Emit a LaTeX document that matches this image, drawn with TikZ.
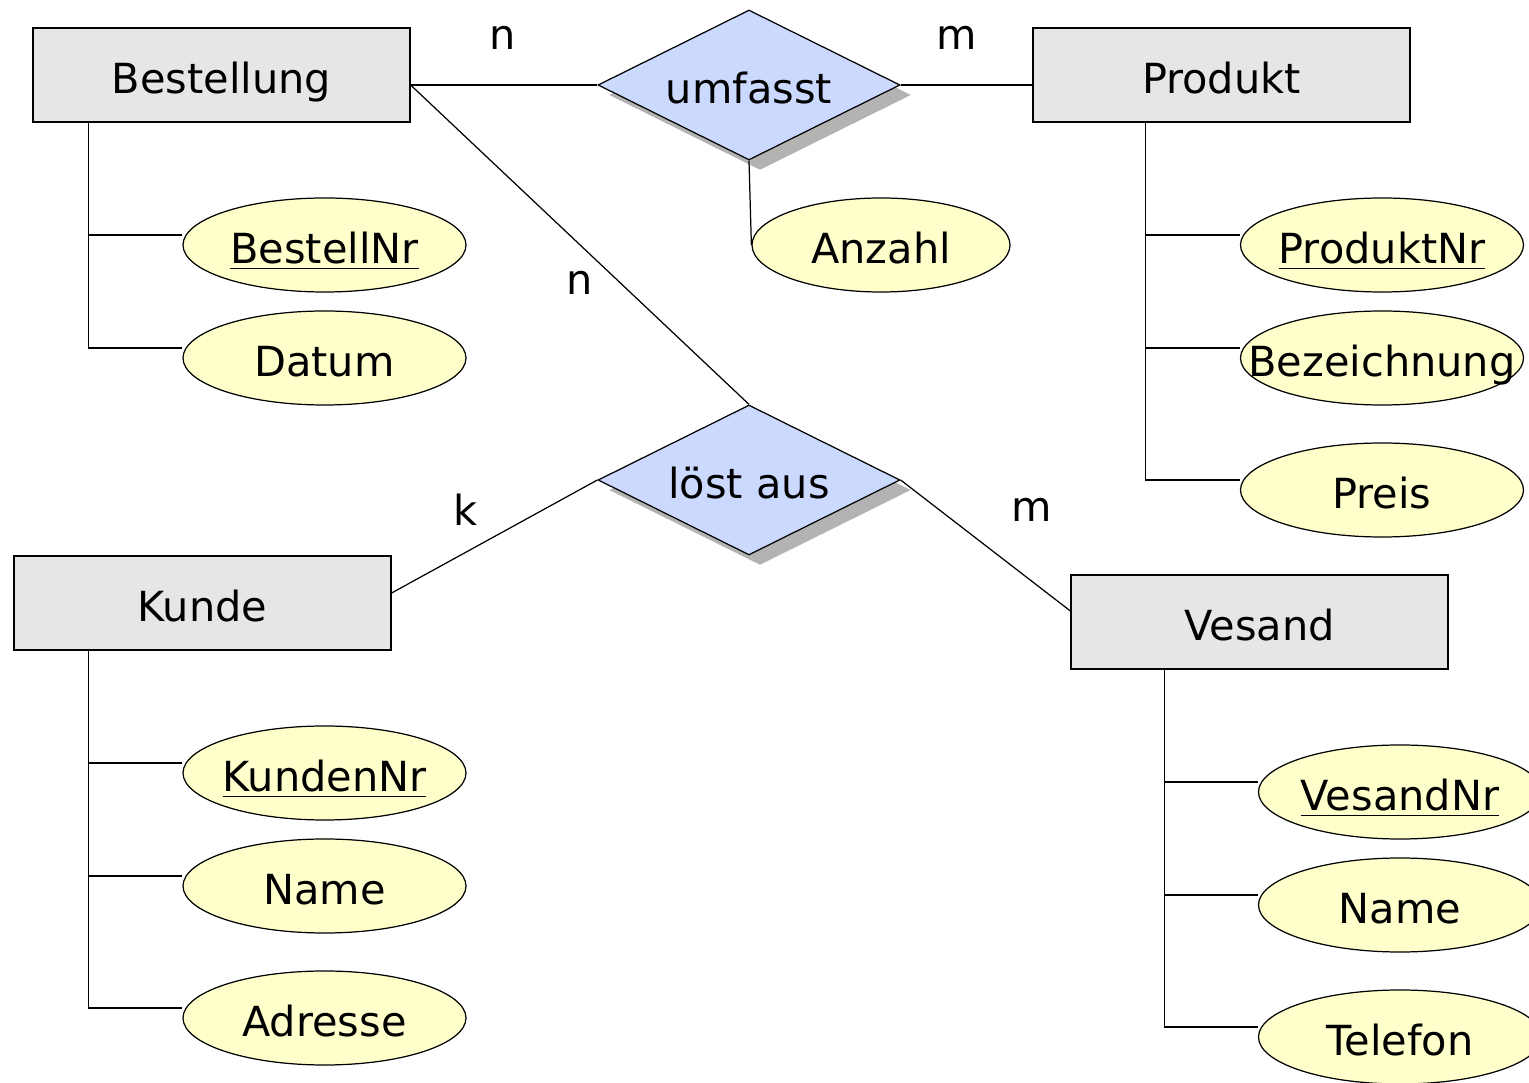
\documentclass[tikz,border=0pt]{standalone}
\usepackage{fontspec}
\setmainfont{DejaVu Sans}
\usetikzlibrary{shapes.geometric,shadows}
\definecolor{entfill}{HTML}{E6E6E6}
\definecolor{relfill}{HTML}{CCD9FF}
\definecolor{attfill}{HTML}{FFFFCC}
\definecolor{shadowgray}{HTML}{B3B3B3}

\begin{document}
\begin{tikzpicture}[
  line width=0.35pt,
  every node/.style={font=\fontsize{11.8}{14}\selectfont},
  entity/.style={draw,fill=entfill,minimum width=3.77cm,minimum height=0.94cm,
    inner sep=0pt,text height=10.3pt,text depth=0pt},
  relation/.style={draw,diamond,aspect=2,fill=relfill,minimum width=3.02cm,minimum height=1.5cm,
    inner sep=0pt,text height=10.3pt,text depth=0pt,
    drop shadow={shadow xshift=0.11cm,shadow yshift=-0.1cm,fill=shadowgray,opacity=1}},
  attrib/.style={draw,ellipse,fill=attfill,minimum width=2.83cm,minimum height=0.94cm,
    inner sep=0pt,text height=10.3pt,text depth=0pt}
]
  \useasboundingbox (0,0) rectangle (15.29,-10.83);
  \node[entity] (best) at (2.215,-0.75) {Bestellung};
  \node[entity] (prod) at (12.215,-0.75) {Produkt};
  \node[entity] (kunde) at (2.025,-6.03) {Kunde};
  \node[entity] (ves) at (12.595,-6.22) {Vesand};
  \node[relation] (umf) at (7.49,-0.85) {umfasst};
  \node[relation] (loest) at (7.49,-4.80) {löst aus};
  \node[attrib,minimum width=2.58cm] (anz) at (8.81,-2.45) {\makebox[1.7cm]{Anzahl}};
  \foreach \n/\t/\x/\y in {
    bnr/\underline{BestellNr}/3.245/-2.45,
    dat/Datum/3.245/-3.58,
    pnr/\underline{ProduktNr}/13.82/-2.45,
    bez/Bezeichnung/13.82/-3.58,
    preis/Preis/13.82/-4.90,
    knr/\underline{KundenNr}/3.245/-7.73,
    kname/Name/3.245/-8.86,
    adr/Adresse/3.245/-10.18,
    vnr/\underline{VesandNr}/14.00/-7.92,
    vname/Name/14.00/-9.05,
    tel/Telefon/14.00/-10.37%
  }
  {
    \node[attrib] (\n) at (\x,\y) {\makebox[1.7cm]{\t}};
  }
  \foreach \e/\dx/\a in {
    best/0.56/bnr, best/0.56/dat,
    prod/1.13/pnr, prod/1.13/bez, prod/1.13/preis,
    kunde/0.75/knr, kunde/0.75/kname, kunde/0.75/adr,
    ves/0.94/vnr, ves/0.94/vname, ves/0.94/tel%
  }
  {
    \draw ([xshift=\dx cm]\e.south west) |- ([yshift=1mm]\a.west);
  }
  \draw (best.east |- umf.west) -- (umf.west);
  \draw (umf.east) -- (umf.east -| prod.west);
  \draw (umf.south) -- (anz.west);
  \draw (best.east |- umf.west) -- (loest.north);
  \draw (loest.west) -- ([yshift=1mm]kunde.east);
  \draw (loest.east) -- ([yshift=1.1mm]ves.west);
  \node (c1) at (5.03,-0.38) {n};
  \node (c2) at (9.57,-0.38) {m};
  \node (c3) at (5.80,-2.83) {n};
  \node (c4) at (4.66,-5.10) {k};
  \node (c5) at (10.32,-5.10) {m};
\end{tikzpicture}
\end{document}
